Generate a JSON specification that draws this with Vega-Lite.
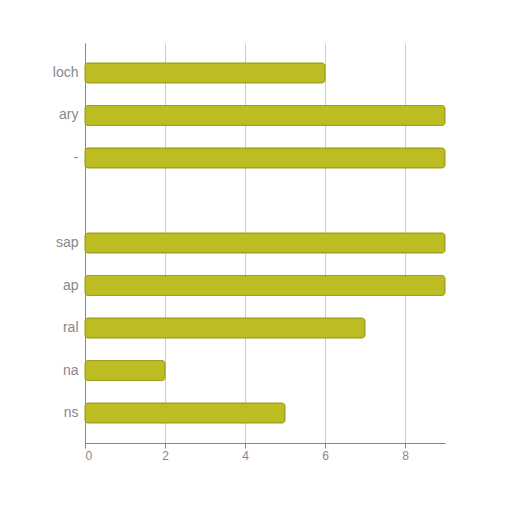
{
  "$schema": "https://vega.github.io/schema/vega-lite/v6.json",
  "width": 360,
  "height": 400,
  "padding": {"left": 52, "top": 43, "right": 5, "bottom": 5},
  "data": {
    "values": [
      {"name": "loch", "count": 6},
      {"name": "ary", "count": 9},
      {"name": "-", "count": 9},
      {"name": "sap", "count": 9},
      {"name": "ap", "count": 9},
      {"name": "ral", "count": 7},
      {"name": "na", "count": 2},
      {"name": "ns", "count": 5}
    ]
  },
  "mark": {"type": "bar", "color": "#bcbd22", "stroke": "#9c9d1a", "strokeWidth": 1, "cornerRadius": 3},
  "encoding": {
    "y": {
      "field": "name",
      "type": "nominal",
      "sort": null,
      "scale": {"domain": ["loch", "ary", "-", " ", "sap", "ap", "ral", "na", "ns"], "paddingInner": 0.53, "paddingOuter": 0.47},
      "axis": {"title": null, "labelFontSize": 14, "labelColor": "#888", "ticks": false, "labelPadding": 7, "domainColor": "#888"}
    },
    "x": {
      "field": "count",
      "type": "quantitative",
      "scale": {"domain": [0, 9], "nice": false},
      "axis": {"title": null, "values": [0, 2, 4, 6, 8], "labelColor": "#888", "labelFontSize": 12, "domainColor": "#888", "tickColor": "#888", "gridColor": "#ccc"}
    }
  },
  "config": {"view": {"stroke": null}}
}
